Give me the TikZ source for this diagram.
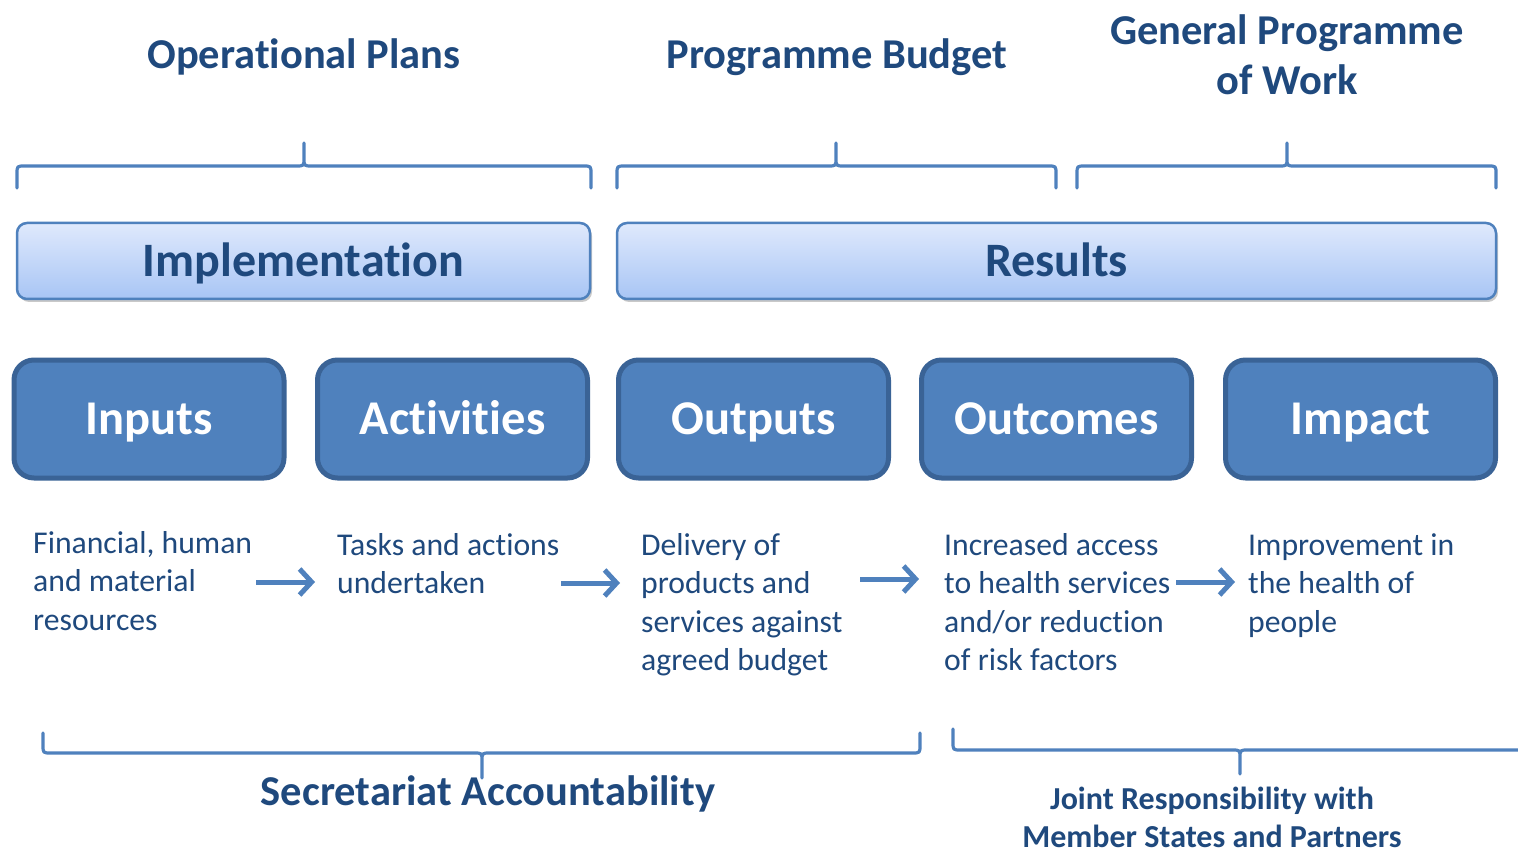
\documentclass[tikz,border=0pt]{standalone}
\usepackage{fontspec}
\setmainfont{Carlito}[Ligatures=NoCommon]
\usetikzlibrary{arrows.meta,shadows}
\definecolor{dkblue}{HTML}{1F497D}
\definecolor{midblue}{HTML}{4F81BD}
\definecolor{edgeblue}{HTML}{3A6396}
\definecolor{lighttop}{HTML}{DFE9FC}
\definecolor{lightbot}{HTML}{A8C5F5}
\newcommand{\fsz}[2]{\fontsize{#1}{#2}\selectfont}
% brace: x1, x2, xm, yend, yh, ytip, r (signed: positive = ends below)
\newcommand{\mybrace}[7]{%
  \draw[bracestyle] (#1,#4) -- (#1,{#5+#7}) .. controls (#1,#5) .. ({#1+8},#5)
    -- ({#3-8},#5) .. controls (#3,#5) .. (#3,{#5-#7}) -- (#3,#6)
    (#3,{#5-#7}) .. controls (#3,#5) .. ({#3+8},#5)
    -- ({#2-8},#5) .. controls (#2,#5) .. (#2,{#5+#7}) -- (#2,#4);}
\tikzset{
  bracestyle/.style={draw=midblue,line width=3.2pt,line cap=round,line join=round},
  heading/.style={text=dkblue,font=\bfseries\fsz{42.5}{50},align=center},
  bigbox/.style={draw=midblue,line width=2.5pt,rounded corners=10pt,top color=lighttop,bottom color=lightbot,
     text=dkblue,font=\bfseries\fsz{48}{56},minimum height=76pt,inner sep=0pt,text height=31pt,text depth=0pt,
     drop shadow={shadow xshift=2pt,shadow yshift=-3pt,opacity=0.35,fill=black!60}},
  stagebox/.style={draw=edgeblue,line width=5pt,rounded corners=20pt,fill=midblue,text=white,
     font=\bfseries\fsz{48.5}{56},minimum width=270pt,minimum height=118pt,inner sep=0pt,text height=31pt,text depth=0pt},
  desc/.style={text=dkblue,font=\fsz{31.7}{38.5},align=left,anchor=north west,inner sep=0pt},
  flow/.style={draw=midblue,line width=5pt,-{Straight Barb[length=12pt,width=26pt,line width=5pt]}},
  bottomlabel/.style={text=dkblue,font=\bfseries\fsz{42.5}{50},align=center},
  smalllabel/.style={text=dkblue,font=\bfseries\fsz{32}{38},align=center,inner sep=0pt}
}
\begin{document}
\begin{tikzpicture}[x=1pt,y=-1pt]
\useasboundingbox[fill=white] (0,0) rectangle (1518,850);
% headings
\node[heading] (hop) at (304,57) {Operational Plans};
\node[heading] (hpb) at (837,57) {Programme Budget};
\node[heading] (hgp) at (1287,55) {General Programme\\of Work};
% top braces
\mybrace{17}{591}{304}{188}{166}{143}{8}
\mybrace{617}{1056}{836}{188}{166}{143}{8}
\mybrace{1077}{1496}{1287}{188}{166}{143}{8}
% big boxes
\node[bigbox,minimum width=573pt] (impl) at (303.5,261) {Implementation};
\node[bigbox,minimum width=879pt] (res) at (1056.5,261) {Results};
% stage boxes
\node[stagebox] (inp) at (149,419) {Inputs};
\node[stagebox] (act) at (452.5,419) {Activities};
\node[stagebox] (outp) at (753.5,419) {Outputs};
\node[stagebox] (outc) at (1056.5,419) {Outcomes};
\node[stagebox] (imp) at (1360.5,419) {Impact};
% descriptions
\node[desc] (d1) at (33,531) {Financial, human\\and material\\resources};
\node[desc] (d2) at (337,533) {Tasks and actions\\undertaken};
\node[desc] (d3) at (641,533) {Delivery of\\products and\\services against\\agreed budget};
\node[desc] (d4) at (944,533) {Increased access\\to health services\\and/or reduction\\of risk factors};
\node[desc] (d5) at (1248,533) {Improvement in\\the health of\\people};
% arrows
\coordinate (a1s) at (256,582); \coordinate (a1e) at (315,582);
\coordinate (a2s) at (561,583); \coordinate (a2e) at (620,583);
\coordinate (a3s) at (860,579); \coordinate (a3e) at (919,579);
\coordinate (a4s) at (1176,582); \coordinate (a4e) at (1235,582);
\draw[flow] (a1s) -- (a1e);
\draw[flow] (a2s) -- (a2e);
\draw[flow] (a3s) -- (a3e);
\draw[flow] (a4s) -- (a4e);
% bottom braces
\mybrace{43}{920}{482}{733}{753}{778}{-8}
\draw[bracestyle] (953,729) -- (953,742) .. controls (953,750) .. (961,750)
   -- (1232,750) .. controls (1240,750) .. (1240,758) -- (1240,774)
   (1240,758) .. controls (1240,750) .. (1248,750) -- (1520,750);
% bottom labels
\node[bottomlabel] (sa) at (488,794) {Secretariat Accountability};
\node[smalllabel] (jr) at (1212,817) {Joint Responsibility with\\Member States and Partners};
\end{tikzpicture}
\end{document}
